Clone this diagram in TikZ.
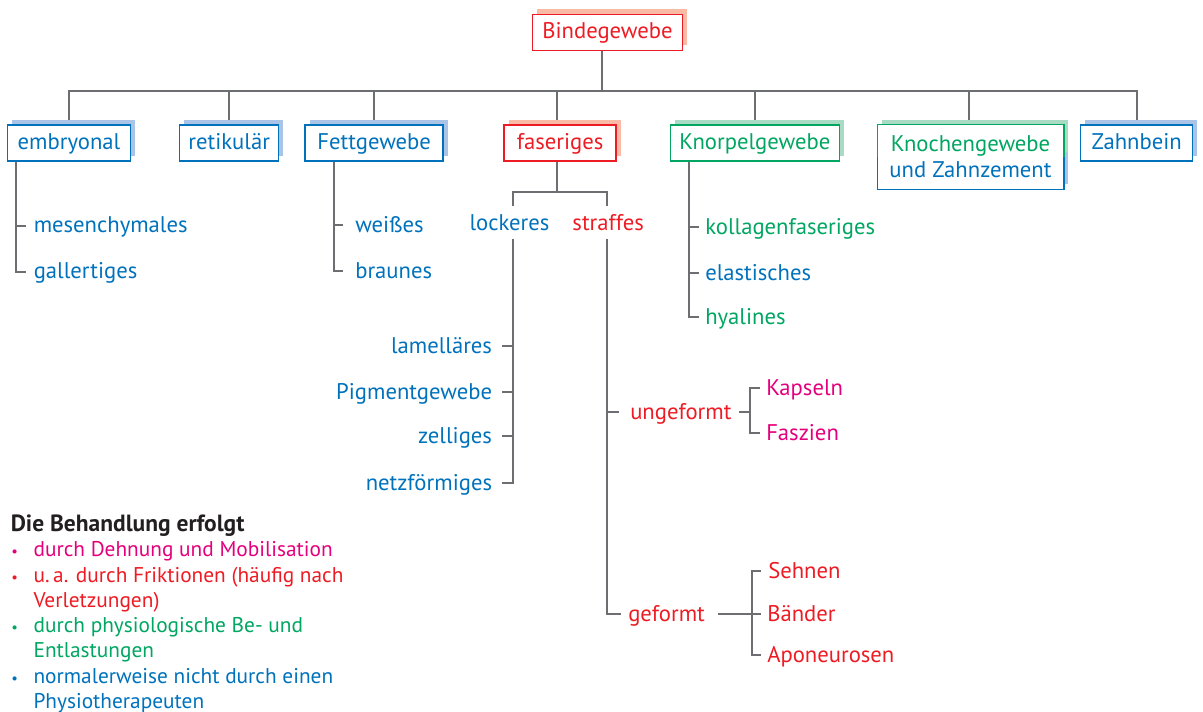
\documentclass[tikz,border=0pt]{standalone}
\usepackage{fontspec}
\setmainfont{PT Sans}
\usetikzlibrary{shadows,backgrounds,calc}
\definecolor{cblue}{RGB}{0,114,188}
\definecolor{cred}{RGB}{237,28,36}
\definecolor{cmag}{RGB}{228,0,124}
\definecolor{cgreen}{RGB}{0,166,97}
\definecolor{cgray}{RGB}{109,110,113}
\definecolor{sblue}{RGB}{169,196,231}
\definecolor{sred}{RGB}{249,187,165}
\definecolor{sgreen}{RGB}{168,218,196}
\definecolor{cdark}{RGB}{35,31,32}
\newcommand\labfont{\fontsize{17}{19.5}\selectfont}
\newcommand\itmfont{\fontsize{17}{19.5}\selectfont}
\newcommand\legfont{\fontsize{16}{19}\selectfont}
\tikzset{
  box/.style={fill=white, line width=1.1pt, inner sep=0pt, minimum height=27pt,
    text height=12.5pt, text depth=3.5pt, font=\labfont},
  bluebox/.style={box, draw=cblue, text=cblue, general shadow={fill=sblue, shadow xshift=3.4pt, shadow yshift=3.9pt}},
  redbox/.style={box, draw=cred, text=cred, general shadow={fill=sred, shadow xshift=3.4pt, shadow yshift=3.9pt}},
  greenbox/.style={box, draw=cgreen, text=cgreen, general shadow={fill=sgreen, shadow xshift=3.4pt, shadow yshift=3.9pt}},
  itm/.style={inner sep=0pt, text height=14pt, text depth=2.8pt, font=\itmfont},
  leg/.style={inner sep=0pt, anchor=base west, font=\legfont},
  bul/.style={inner sep=0pt, anchor=base west, font=\fontsize{11}{11}\selectfont},
  ln/.style={draw=cgray, line width=1.5pt},
}
\begin{document}
\begin{tikzpicture}[x=0.75pt,y=-0.75pt]
\useasboundingbox (0,0) rectangle (1203,711);

% ---- boxes
\node[redbox, minimum width=150*0.75pt] (binde) at (607.5,32.3) {Bindegewebe};
\node[bluebox, minimum width=123*0.75pt] (embryonal) at (69,143) {embryonal};
\node[bluebox, minimum width=99*0.75pt] (retik) at (229.2,143) {retikulär};
\node[bluebox, minimum width=138*0.75pt] (fett) at (374.2,143) {Fettgewebe};
\node[redbox, minimum width=112*0.75pt] (faser) at (560.2,143) {faseriges};
\node[greenbox, minimum width=169*0.75pt] (knorpel) at (754.8,143) {Knorpelgewebe};
\node[bluebox, minimum width=112*0.75pt] (zahn) at (1136.7,143) {Zahnbein};
\node[inner sep=0pt, minimum width=186*0.75pt, minimum height=64*0.75pt, align=center, font=\labfont] (knochen) at (970.5,157)
  {\textcolor{cgreen}{Knochengewebe}\\\textcolor{cblue}{und Zahnzement}};

% ---- items
\node[itm, anchor=west, text=cblue] (mes) at (33.5,225.5) {mesenchymales};
\node[itm, anchor=west, text=cblue] (gall) at (33.5,271.5) {gallertiges};
\node[itm, anchor=west, text=cblue] (weiss) at (355,225) {weißes};
\node[itm, anchor=west, text=cblue] (braun) at (355,271) {braunes};
\node[itm, text=cblue] (locker) at (509.5,223) {lockeres};
\node[itm, text=cred] (straff) at (608.2,223) {straffes};
\node[itm, anchor=east, text=cblue] (lam) at (492.3,346) {lamelläres};
\node[itm, anchor=east, text=cblue] (pig) at (492.3,391.7) {Pigmentgewebe};
\node[itm, anchor=east, text=cblue] (zell) at (492.3,436) {zelliges};
\node[itm, anchor=east, text=cblue] (netz) at (492.3,482.7) {netzförmiges};
\node[itm, anchor=west, text=cred] (unge) at (630,411.7) {ungeformt};
\node[itm, anchor=west, text=cred] (gef) at (628,614.3) {geformt};
\node[itm, anchor=west, text=cmag] (kaps) at (766,388) {Kapseln};
\node[itm, anchor=west, text=cmag] (fasz) at (766,432.7) {Faszien};
\node[itm, anchor=west, text=cred] (sehn) at (768,570.7) {Sehnen};
\node[itm, anchor=west, text=cred] (baend) at (767,614.3) {Bänder};
\node[itm, anchor=west, text=cred] (apo) at (767,655) {Aponeurosen};
\node[itm, anchor=west, text=cgreen] (koll) at (705,226.7) {kollagenfaseriges};
\node[itm, anchor=west, text=cblue] (elast) at (705,272.7) {elastisches};
\node[itm, anchor=west, text=cgreen] (hyal) at (705,317.3) {hyalines};

% ---- legend
\node[leg, font=\fontsize{17.6}{19}\selectfont\bfseries, text=cdark] (head) at (10.5,531.7) {Die Behandlung erfolgt};
\node[bul, text=cmag] (b1) at (11,556.7) {\textbullet};
\node[leg, text=cmag] (l1) at (33.3,556.7) {durch Dehnung und Mobilisation};
\node[bul, text=cred] (b2) at (11,582) {\textbullet};
\node[leg, text=cred] (l2) at (33.3,582) {u.\,a. durch Friktionen (häufig nach};
\node[leg, text=cred] (l3) at (33.3,607.3) {Verletzungen)};
\node[bul, text=cgreen] (b3) at (11,632.6) {\textbullet};
\node[leg, text=cgreen] (l4) at (33.3,632.6) {durch physiologische Be- und};
\node[leg, text=cgreen] (l5) at (33.3,657.9) {Entlastungen};
\node[bul, text=cblue] (b4) at (11,683.2) {\textbullet};
\node[leg, text=cblue] (l6) at (33.3,683.2) {normalerweise nicht durch einen};
\node[leg, text=cblue] (l7) at (33.3,708) {Physiotherapeuten};

% ---- helper coordinates
\coordinate (bus) at (0,90.7);
\coordinate (fbus) at (0,191.7);
\coordinate (lx) at (513.3,206);
\coordinate (sx) at (606.9,206);
\coordinate (ex) at (16,0);
\coordinate (fx) at (334.3,0);
\coordinate (kx) at (689,0);
\coordinate (ub) at (750,0);
\coordinate (gb) at (751.7,0);

\begin{scope}[on background layer]
  % main tree
  \draw[ln] ([xshift=-4.1pt]binde.south) -- ([xshift=-4.1pt]binde.south |- bus);
  \draw[ln] (embryonal.north) |- (zahn.north |- bus) -- (zahn.north);
  \foreach \n in {retik,fett,knorpel}{\draw[ln] (\n.north) -- (\n.north |- bus);}
  \draw[ln] ([xshift=-2.6pt]faser.north) -- ([xshift=-2.6pt]faser.north |- bus);
  \draw[ln] ([xshift=-1.1pt]knochen.north) -- ([xshift=-1.1pt]knochen.north |- bus);
  % embryonal
  \draw[ln] (ex |- embryonal.south) |- ([xshift=-5.5pt]gall.west);
  \draw[ln] ([xshift=-5.5pt]mes.west) -- (mes.west -| ex);
  % Fettgewebe
  \draw[ln] (fx |- fett.south) |- ([xshift=-9pt]braun.west);
  \draw[ln] ([xshift=-9pt]weiss.west) -- (weiss.west -| fx);
  % faseriges
  \draw[ln] ([xshift=-2.6pt]faser.south) -- ([xshift=-2.6pt]faser.south |- fbus);
  \draw[ln] (lx) |- (sx |- fbus) -- (sx);
  % lockeres
  \draw[ln] ([yshift=-3.5pt]locker.south -| lx) |- ([xshift=7.5pt]netz.east);
  \draw[ln] ([xshift=7.5pt]lam.east) -- (lam.east -| lx);
  \draw[ln] ([xshift=7.5pt]pig.east) -- (pig.east -| lx);
  \draw[ln] ([xshift=7.5pt]zell.east) -- (zell.east -| lx);
  % straffes
  \draw[ln] ([yshift=-3.5pt]straff.south -| sx) |- ([xshift=-5.5pt]gef.west);
  \draw[ln] ([xshift=-8.2pt]unge.west) -- (unge.west -| sx);
  % ungeformt
  \draw[ln] ([xshift=5.5pt]unge.east) -- (unge.east -| ub);
  \draw[ln] ([xshift=-4.5pt]kaps.west) -| (ub |- fasz.west) -- ([xshift=-4.5pt]fasz.west);
  % geformt
  \draw[ln] ([xshift=10pt]gef.east) -- ([xshift=-4.5pt]baend.west);
  \draw[ln] ([xshift=-5.5pt]sehn.west) -| (gb |- apo.west) -- ([xshift=-4.5pt]apo.west);
  % Knorpel
  \draw[ln] (kx |- knorpel.south) |- ([xshift=-4.5pt]hyal.west);
  \foreach \n in {koll,elast}{\draw[ln] ([xshift=-4.5pt]\n.west) -- (\n.west -| kx);}
  % Knochengewebe box shadow and fill
  \fill[sgreen] ($(knochen.north west)+(4.5,-5.2)$) rectangle ($(knochen.east)+(4.5,-5.2)$);
  \fill[sblue] ($(knochen.west)+(4.5,-5.2)$) rectangle ($(knochen.south east)+(4.5,-5.2)$);
  \fill[white] (knochen.north west) rectangle (knochen.south east);
\end{scope}
\draw[cgreen, line width=1.1pt] (knochen.west) -- (knochen.north west) -- (knochen.north east) -- (knochen.east);
\draw[cblue, line width=1.1pt] (knochen.west) -- (knochen.south west) -- (knochen.south east) -- (knochen.east);
\end{tikzpicture}
\end{document}
